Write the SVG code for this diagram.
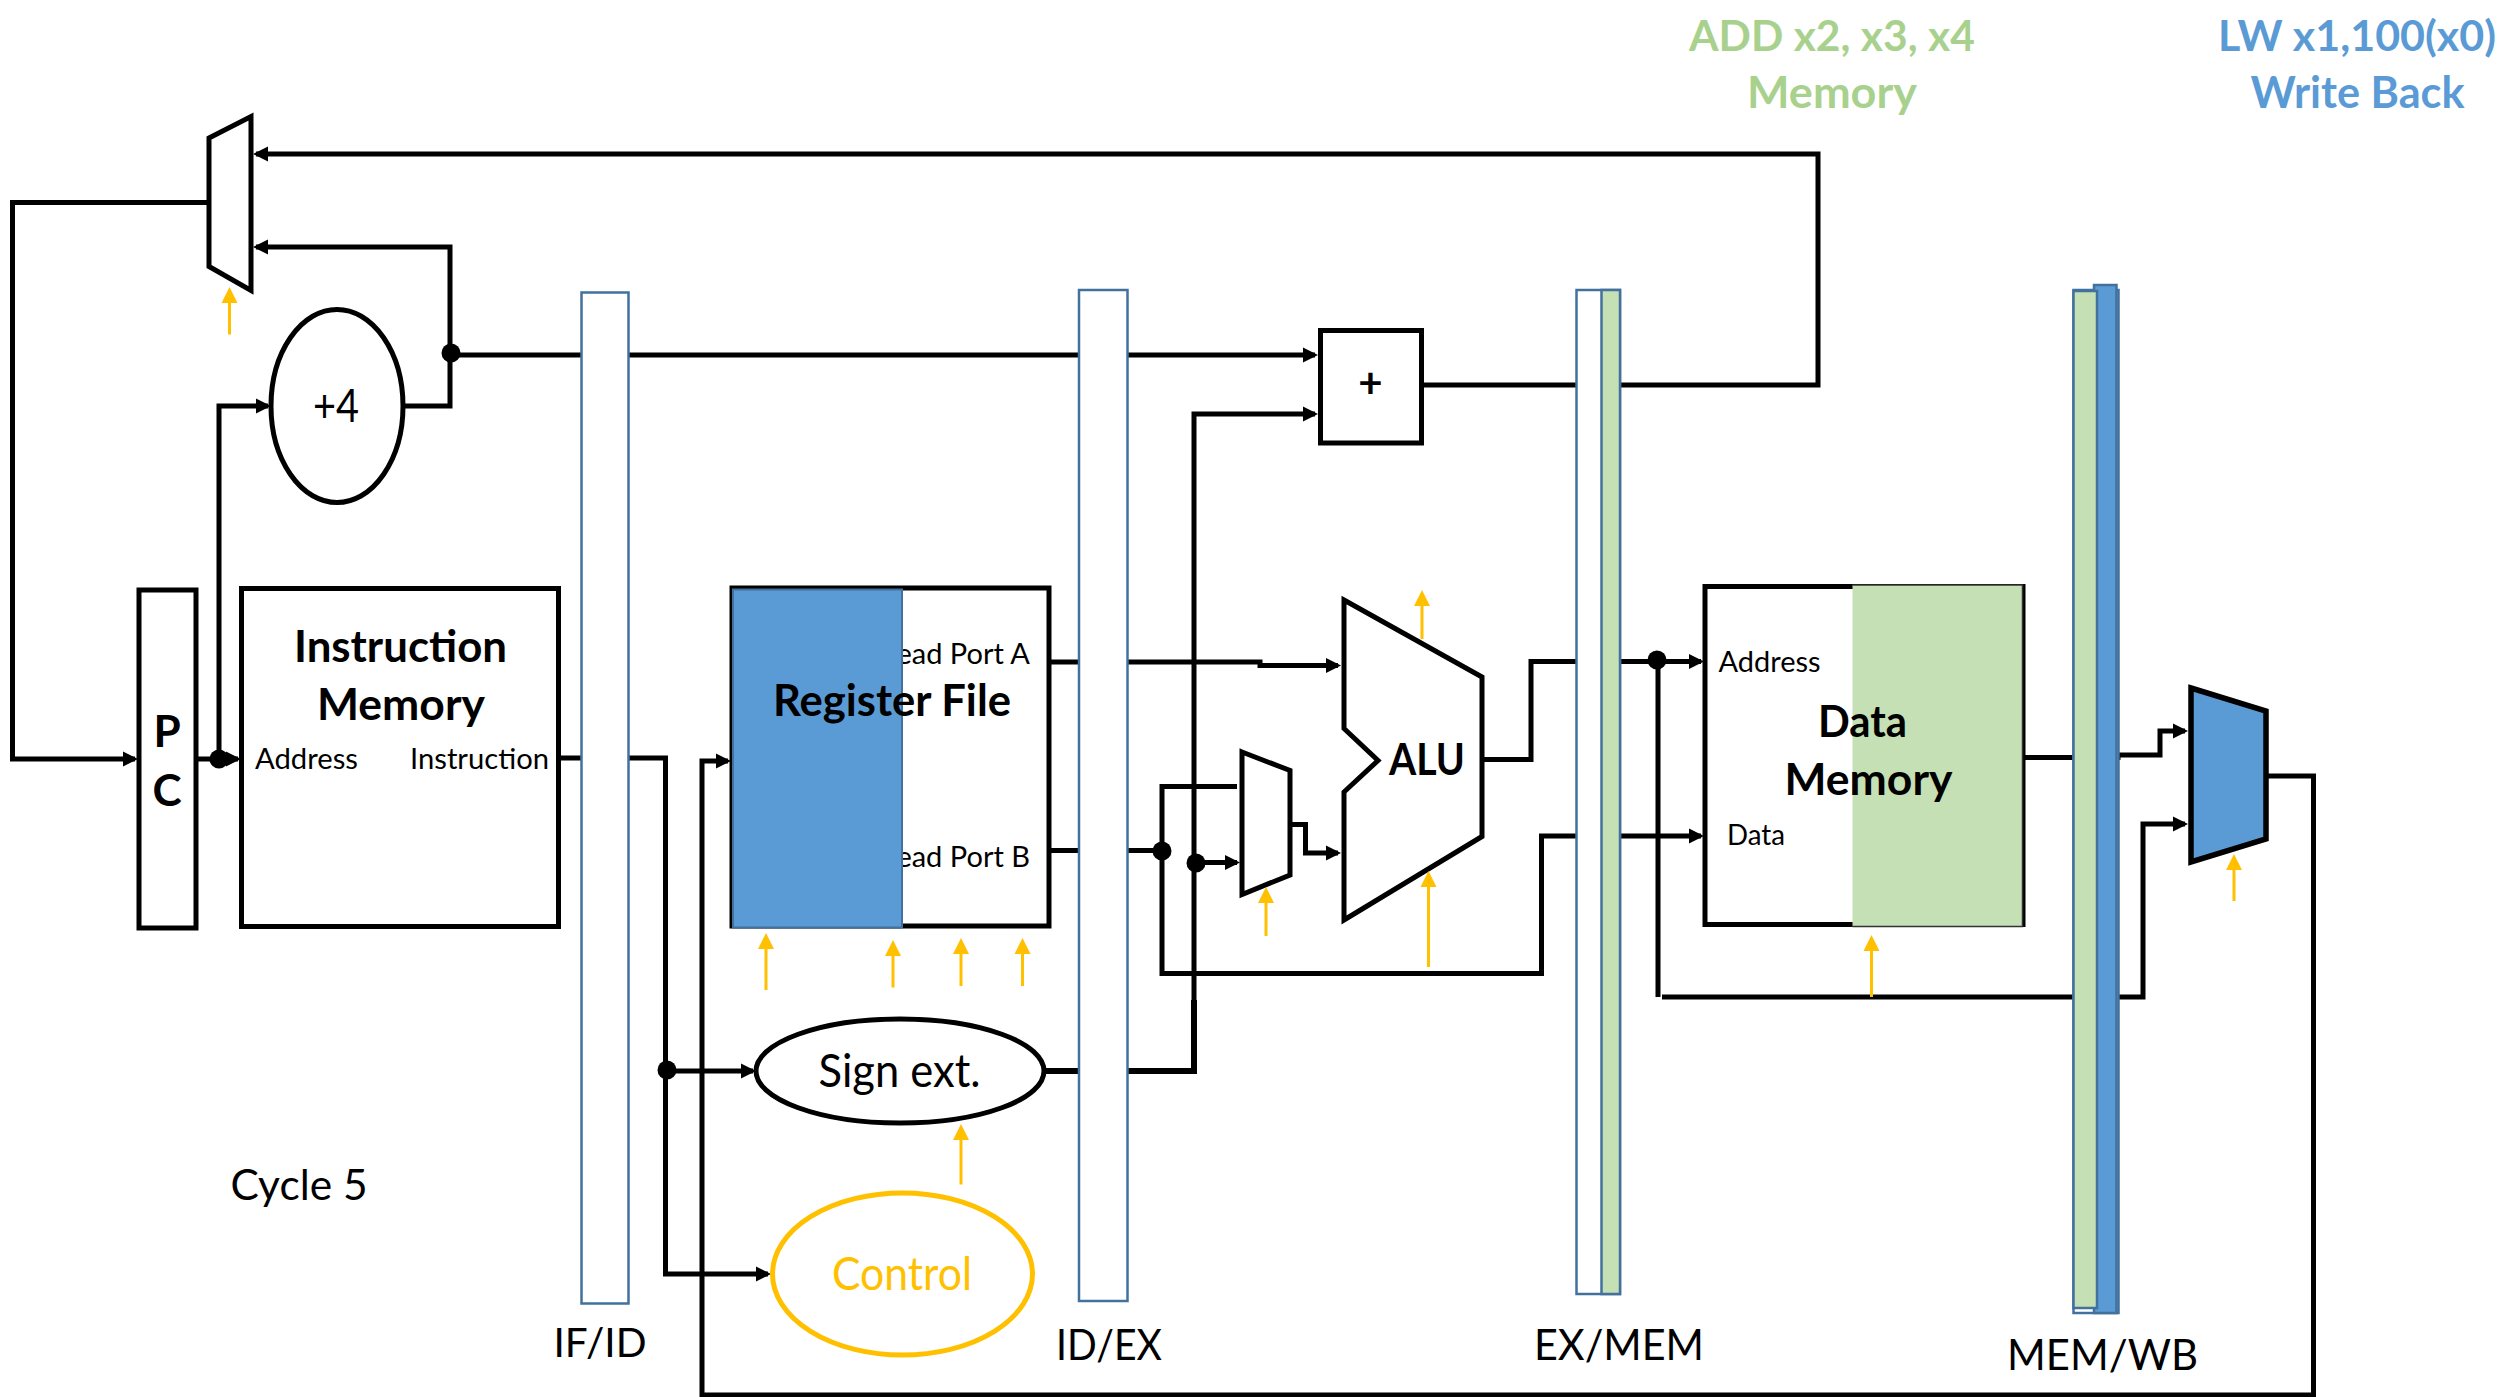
<svg xmlns="http://www.w3.org/2000/svg" width="2509" height="1397" viewBox="0 0 2509 1397">
<style>
text{font-family:Lato,"Open Sans","Liberation Sans",sans-serif;fill:#000}
.m{text-anchor:middle}
.b{font-weight:700}
.w{stroke:#000;stroke-width:5;fill:none}
.box{stroke:#000;stroke-width:5;fill:#fff}
.bar{stroke:#41719C;stroke-width:2.5;fill:#fff}
.g{fill:#C5E0B4}
.bl{fill:#5B9BD5}
.sig{stroke:#FFC000;stroke-width:3;fill:none;marker-end:url(#ya)}
</style>
<defs>
<marker id="a" markerUnits="userSpaceOnUse" markerWidth="16" markerHeight="16" refX="12" refY="8" orient="auto"><path d="M0 .5L15 8L0 15.500Z" fill="#000"/></marker>
<marker id="ya" markerUnits="userSpaceOnUse" markerWidth="18" markerHeight="18" refX="3" refY="9" orient="auto"><path d="M0 1L16 9L0 17Z" fill="#FFC000"/></marker>
</defs>
<rect width="2509" height="1397" fill="#fff"/>
<g id="connectors">
<path class="w" marker-end="url(#a)" d="M1422 385H1818V154H256"/>
<path class="w" marker-end="url(#a)" d="M404 406H450V247H256"/>
<path class="w" marker-end="url(#a)" d="M451 355H1315"/>
<path class="w" marker-end="url(#a)" d="M1194 1071V414H1315"/>
<path class="w" marker-end="url(#a)" d="M209 202.500H12.500V759H135"/>
<path class="w" marker-end="url(#a)" d="M196 759H238"/>
<path class="w" marker-end="url(#a)" d="M219 759V406H268"/>
<path class="w" marker-end="url(#a)" d="M558 758H665.500V1274H768"/>
<path class="w" marker-end="url(#a)" d="M667 1071H753"/>
<path class="w" marker-end="url(#a)" d="M2266 776H2313.500V1395H702V761H728"/>
<path class="w" marker-end="url(#a)" d="M1049 662H1260V665.500H1338"/>
<path class="w" d="M1049 850.500H1162"/>
<path class="w" marker-end="url(#a)" d="M1237 786.500H1162V973.500H1541.500V836H1701"/>
<path class="w" marker-end="url(#a)" d="M1196 862.500H1237"/>
<path class="w" marker-end="url(#a)" d="M1290 824.500H1305.500V853H1338"/>
<path class="w" style="stroke-width:6" d="M1044 1071H1194V1000"/>
<path class="w" marker-end="url(#a)" d="M1482 759.500H1531V661.500H1701"/>
<path class="w" marker-end="url(#a)" d="M1658 660V997M1662 997H2143V824H2185"/>
<path class="w" marker-end="url(#a)" d="M2022 757.500H2118V755H2160V731H2185"/>
<circle cx="451" cy="353" r="9.500"/>
<circle cx="219" cy="759" r="9.500"/>
<circle cx="667" cy="1070" r="9.500"/>
<circle cx="1162" cy="851" r="9.500"/>
<circle cx="1196" cy="863" r="9.500"/>
<circle cx="1657" cy="660" r="9.500"/>
</g>
<g id="pc-mux"><path class="box" d="M209 138L251 116.500V290.500L209 266.500Z"/></g>
<g id="plus4"><ellipse class="box" cx="337" cy="406" rx="66" ry="96.500"/><text class="m" x="336" y="422" font-size="46" textLength="46" lengthAdjust="spacingAndGlyphs">+4</text></g>
<g id="pc"><rect class="box" x="139" y="590" width="57" height="338"/><text class="m b" x="167" y="747" font-size="44">P</text><text class="m b" x="167" y="806" font-size="44">C</text></g>
<g id="instruction-memory"><rect class="box" x="241.500" y="588.500" width="317" height="338"/>
<text class="m b" x="400.500" y="661.500" font-size="44" textLength="213" lengthAdjust="spacingAndGlyphs">Instruction</text>
<text class="m b" x="401" y="719.500" font-size="44" textLength="168" lengthAdjust="spacingAndGlyphs">Memory</text>
<text x="255" y="769" font-size="29" textLength="103" lengthAdjust="spacingAndGlyphs">Address</text>
<text x="410" y="769" font-size="29" textLength="139" lengthAdjust="spacingAndGlyphs">Instruction</text></g>
<g id="if-id"><rect class="bar" x="581.500" y="292.500" width="47" height="1011"/><text class="m" x="600" y="1357" font-size="41" textLength="93" lengthAdjust="spacingAndGlyphs">IF/ID</text></g>
<g id="register-file"><rect class="box" x="732" y="588" width="317" height="338"/>
<text x="1030" y="664" text-anchor="end" font-size="29">Read Port A</text>
<text x="1030" y="867" text-anchor="end" font-size="29">Read Port B</text>
<rect x="733" y="589.500" width="169" height="338" fill="#5B9BD5" stroke="#41719C" stroke-width="2"/>
<text class="m b" x="892" y="716" font-size="44" textLength="238" lengthAdjust="spacingAndGlyphs">Register File</text></g>
<g id="sign-ext"><ellipse class="box" cx="900" cy="1071" rx="144" ry="52"/><text class="m" x="899.500" y="1086.500" font-size="46" textLength="162" lengthAdjust="spacingAndGlyphs">Sign ext.</text></g>
<g id="control"><ellipse cx="902.500" cy="1274" rx="130" ry="81" fill="#fff" stroke="#FFC000" stroke-width="5"/><text class="m" x="902" y="1290" font-size="46" textLength="140" lengthAdjust="spacingAndGlyphs" style="fill:#FFC000">Control</text></g>
<g id="id-ex"><rect class="bar" x="1079" y="290" width="48.500" height="1011"/><text class="m" x="1109" y="1360" font-size="42" textLength="106" lengthAdjust="spacingAndGlyphs">ID/EX</text></g>
<g id="adder"><rect class="box" x="1320.500" y="330.500" width="101" height="112.500"/><text class="m b" x="1370.500" y="398" font-size="42">+</text></g>
<g id="alu-mux"><path class="box" d="M1242 752L1290 770.500V875L1242 894.500Z"/></g>
<g id="alu"><path class="box" d="M1344 600L1482 677V836.500L1344 920V792L1378 760.500L1344 728.500Z"/><text class="m b" x="1427" y="775" font-size="43" textLength="76" lengthAdjust="spacingAndGlyphs">ALU</text></g>
<g id="ex-mem"><rect class="bar" x="1576.500" y="290" width="43.500" height="1004"/><rect class="bar g" x="1601.500" y="290" width="18.500" height="1004"/><text class="m" x="1619" y="1360" font-size="42" textLength="170" lengthAdjust="spacingAndGlyphs">EX/MEM</text></g>
<g id="data-memory"><rect class="box" x="1705" y="586.500" width="318" height="338"/>
<rect x="1852.500" y="585" width="170" height="341.500" fill="#C5E0B4"/>
<path d="M1852.500 585H2022.500V926.500H1852.500" fill="none" stroke="#333" stroke-width="1.500"/>
<text x="1718.500" y="671.500" font-size="29" textLength="102" lengthAdjust="spacingAndGlyphs">Address</text>
<text x="1727" y="844.500" font-size="29" textLength="58" lengthAdjust="spacingAndGlyphs">Data</text>
<text class="m b" x="1862.500" y="737" font-size="44" textLength="89" lengthAdjust="spacingAndGlyphs">Data</text>
<text class="m b" x="1868.500" y="795" font-size="44" textLength="168" lengthAdjust="spacingAndGlyphs">Memory</text></g>
<g id="mem-wb"><rect class="bar" x="2073.500" y="290" width="45" height="1023"/><rect class="bar bl" x="2094" y="285" width="22.500" height="1028"/><rect class="bar g" x="2073.500" y="291" width="23.500" height="1017"/><text class="m" x="2102.500" y="1369.500" font-size="42" textLength="191" lengthAdjust="spacingAndGlyphs">MEM/WB</text></g>
<g id="wb-mux"><path d="M2191 688L2266 711V839L2191 862Z" fill="#5B9BD5" stroke="#000" stroke-width="5.500"/></g>
<g id="control-signals">
<path class="sig" d="M229.500 334.500V300"/>
<path class="sig" d="M766 990V946"/>
<path class="sig" d="M893 987.500V953"/>
<path class="sig" d="M961 986V951"/>
<path class="sig" d="M1022.500 986V951"/>
<path class="sig" d="M961 1184.500V1137"/>
<path class="sig" d="M1266 936V900"/>
<path class="sig" d="M1422 639V603"/>
<path class="sig" d="M1428.500 967V884"/>
<path class="sig" d="M1871.500 997V948"/>
<path class="sig" d="M2234 901V867"/>
</g>
<g id="labels">
<text class="m" x="299" y="1199.500" font-size="42" textLength="137" lengthAdjust="spacingAndGlyphs">Cycle 5</text>
<text class="m b" x="1832" y="50.500" font-size="42" textLength="286" lengthAdjust="spacingAndGlyphs" style="fill:#A9D18E">ADD x2, x3, x4</text>
<text class="m b" x="1832" y="108" font-size="44" textLength="170" lengthAdjust="spacingAndGlyphs" style="fill:#A9D18E">Memory</text>
<text class="m b" x="2357" y="50.500" font-size="42" textLength="278" lengthAdjust="spacingAndGlyphs" style="fill:#5B9BD5">LW x1,100(x0)</text>
<text class="m b" x="2357.500" y="107.500" font-size="43" textLength="214" lengthAdjust="spacingAndGlyphs" style="fill:#5B9BD5">Write Back</text>
</g>
</svg>
